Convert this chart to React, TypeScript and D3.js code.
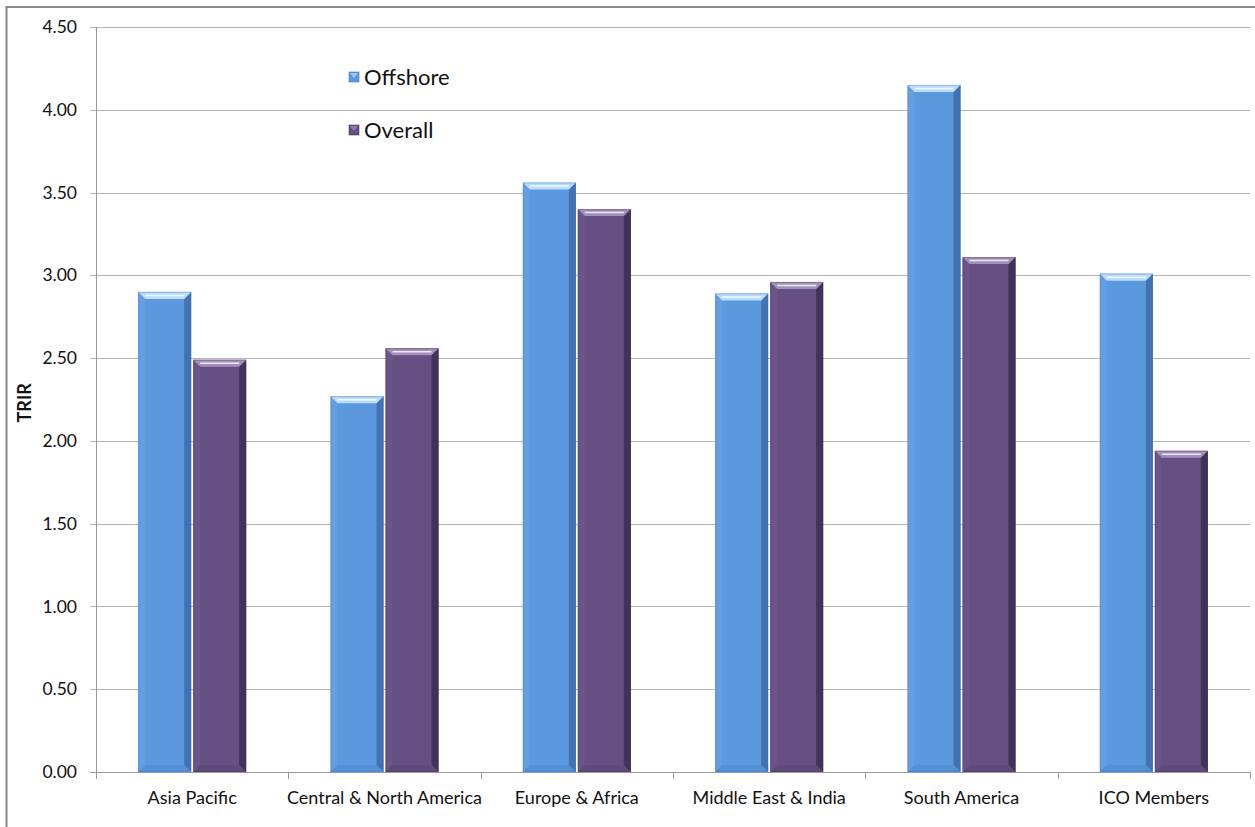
import React from "react";
import * as d3 from "d3";

const categories = [
  "Asia Pacific",
  "Central & North America",
  "Europe & Africa",
  "Middle East & India",
  "South America",
  "ICO Members",
];
const seriesNames = ["Offshore", "Overall"];
const offshore = [2.9, 2.27, 3.56, 2.89, 4.15, 3.01];
const overall = [2.49, 2.56, 3.4, 2.96, 3.11, 1.94];
const yTicks = [0, 0.5, 1, 1.5, 2, 2.5, 3, 3.5, 4, 4.5];

const W = 1255;
const H = 827;
const margin = { left: 96, right: 5, top: 27, bottom: 55 };
const FONT = "'Lato', 'Open Sans', sans-serif";

const palette = [
  { base: "#5b98de", light: "#b9dcff", lightEdge: "#7db4ee", dark: "#3a6aa6", bottom: "#5290d6" },
  { base: "#664f83", light: "#a28fbd", lightEdge: "#7a6498", dark: "#3a2a4d", bottom: "#5f4a7b" },
];

function BevelBar({ x, y, w, h, c }: { x: number; y: number; w: number; h: number; c: typeof palette[0] }) {
  const b = Math.min(7, h / 2);
  const x2 = x + w;
  const y2 = y + h;
  return (
    <g>
      <rect x={x} y={y} width={w} height={h} fill={c.base} />
      {/* left edge */}
      <polygon points={`${x},${y} ${x + b},${y + b} ${x + b},${y2 - b} ${x},${y2}`} fill={c.lightEdge} opacity={0.25} />
      {/* right edge */}
      <polygon points={`${x2},${y} ${x2 - b},${y + b} ${x2 - b},${y2 - b} ${x2},${y2}`} fill={c.dark} opacity={0.8} />
      {/* bottom edge */}
      <polygon points={`${x},${y2} ${x + b},${y2 - b} ${x2 - b},${y2 - b} ${x2},${y2}`} fill={c.bottom} />
      {/* top edge */}
      <polygon points={`${x},${y} ${x2},${y} ${x2 - b},${y + b} ${x + b},${y + b}`} fill={c.light} />
      <line x1={x + b} y1={y + b / 2} x2={x2 - b} y2={y + b / 2} stroke="#ffffff" strokeWidth={1.5} opacity={0.8} />
      <rect x={x + 0.5} y={y + 0.5} width={w - 1} height={h - 1} fill="none" stroke={c.dark} strokeOpacity={0.3} />
    </g>
  );
}

export default function App() {
  const x0 = d3
    .scaleBand<string>()
    .domain(categories)
    .range([margin.left, W - margin.right]);
  const y = d3.scaleLinear().domain([0, 4.5]).range([H - margin.bottom, margin.top]);
  const barW = 53;
  const series = [offshore, overall];

  return (
    <svg width={W} height={H} style={{ position: "absolute", left: 0, top: 0 }}>
      <rect x={0} y={0} width={W} height={H} fill="#fff" />
      <rect x={6.5} y={7} width={W + 10} height={H + 10} fill="none" stroke="#8a8a8a" strokeWidth={2} />
      {/* gridlines */}
      {yTicks.map((t) => (
        <line key={"g" + t} x1={margin.left - 6} x2={W - margin.right} y1={Math.round(y(t)) + 0.5} y2={Math.round(y(t)) + 0.5}
          stroke={t === 0 ? "#9a9a9a" : "#b4b4b4"} strokeWidth={1} />
      ))}
      {yTicks.map((t) => (
        <text key={"t" + t} x={margin.left - 19} y={y(t)} dy="0.35em" textAnchor="end" fontFamily={FONT} fontSize={17.5} fill="#111">
          {t.toFixed(2)}
        </text>
      ))}
      <line x1={margin.left + 0.5} x2={margin.left + 0.5} y1={margin.top} y2={H - margin.bottom} stroke="#9a9a9a" />
      {/* category ticks */}
      {d3.range(categories.length + 1).map((i) => {
        const xx = Math.round(margin.left + i * x0.step()) + 0.5;
        return <line key={"xt" + i} x1={xx} x2={xx} y1={H - margin.bottom} y2={H - margin.bottom + 7} stroke="#9a9a9a" />;
      })}
      {/* bars */}
      {categories.map((cat, i) => {
        const cx = (x0(cat) as number) + x0.bandwidth() / 2;
        return series.map((vals, s) => {
          const xx = cx - barW + s * barW + (s === 0 ? -1 : 1);
          const yy = y(vals[i]);
          return (
            <BevelBar key={cat + s} x={xx} y={yy} w={barW} h={y(0) - yy} c={palette[s]} />
          );
        });
      })}
      {categories.map((cat) => (
        <text key={"c" + cat} x={(x0(cat) as number) + x0.bandwidth() / 2} y={804} textAnchor="middle" fontFamily={FONT} fontSize={18} fill="#111">
          {cat}
        </text>
      ))}
      <text transform={`translate(31, ${y(2.23)}) rotate(-90)`} textAnchor="middle" fontFamily={FONT} fontWeight="bold" fontSize={18} fill="#111">
        TRIR
      </text>
      {/* legend */}
      {seriesNames.map((name, s) => (
        <g key={name} transform={`translate(349, ${77 + s * 53})`}>
          <rect x={0} y={-5} width={10} height={10} fill={palette[s].base} stroke={palette[s].dark} strokeOpacity={0.5} />
          <polygon points="1,-4 9,-4 5,1" fill={palette[s].light} opacity={0.7} />
          <text x={15} y={0} dy="0.35em" fontFamily={FONT} fontSize={22} fill="#111">
            {name}
          </text>
        </g>
      ))}
    </svg>
  );
}
